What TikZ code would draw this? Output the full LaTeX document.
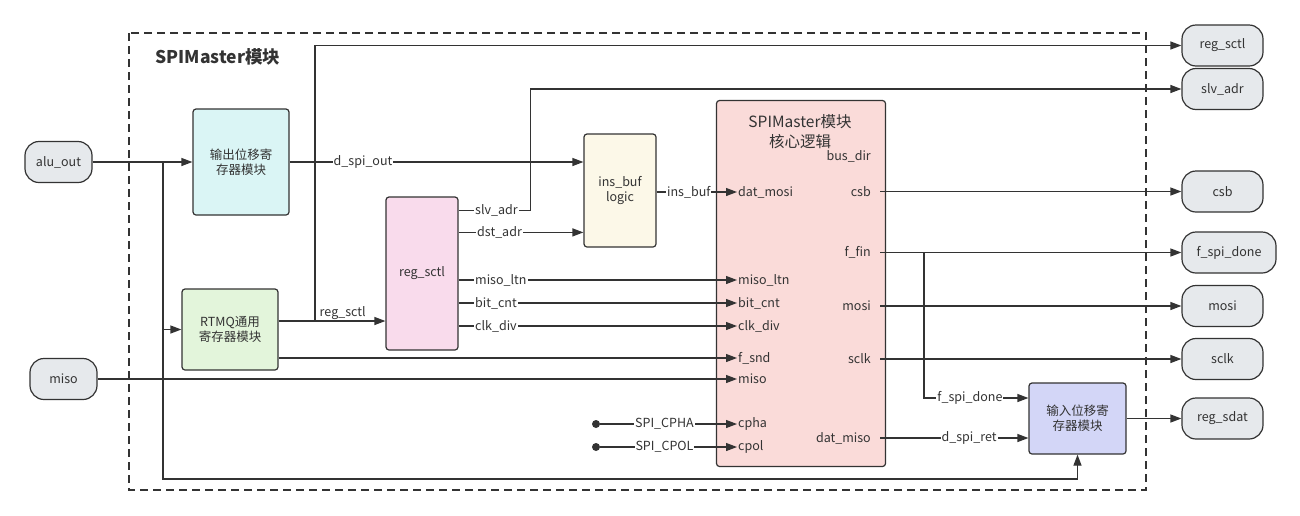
\documentclass[tikz,border=0pt]{standalone}
\usepackage{fontspec}
\setmainfont{Noto Sans CJK SC}
\usetikzlibrary{arrows.meta, positioning, calc}
\definecolor{ink}{HTML}{333333}
\definecolor{osrcyan}{HTML}{DAF5F5}
\definecolor{rtmqgreen}{HTML}{E3F5DB}
\definecolor{regpink}{HTML}{F9DBEC}
\definecolor{bufcream}{HTML}{FCF8E8}
\definecolor{corepink}{HTML}{FADBD9}
\definecolor{isrblue}{HTML}{D3D6F7}
\definecolor{pillgray}{HTML}{E6E9EC}
\newcommand{\lblfont}{\fontsize{12.5}{15}\selectfont}

\begin{document}
\begin{tikzpicture}[x=1pt, y=-1pt,
  wire/.style={draw=ink, line width=1.2pt},
  arr/.style={wire, -{Triangle[length=11pt, width=8pt]}},
  block/.style={rectangle, rounded corners=3pt, draw=ink, line width=1.2pt, align=center,
    font=\lblfont, text=ink, inner sep=0pt},
  pill/.style={rectangle, rounded corners=14pt, draw=ink, line width=1.2pt, fill=pillgray,
    minimum height=41pt, font=\lblfont, text=ink},
  port/.style={font=\lblfont, text=ink, inner sep=1pt},
  lbl/.style={font=\lblfont, text=ink, fill=white, inner sep=1pt},
  dot/.style={circle, fill=ink, minimum size=8pt, inner sep=0pt}
]
  \useasboundingbox (0,0) rectangle (1300,515);
  \draw[wire, dash pattern=on 8pt off 5pt] (129,33) rectangle (1146,490);
  \node[font=\bfseries\fontsize{17.5}{20}\selectfont, text=ink, anchor=west] (title) at (152,57) {SPIMaster模块};

  % inputs
  \node[pill, minimum width=67pt] (aluout) at (58.5,162) {alu\_out};
  \node[pill, minimum width=67pt] (misoin) at (63.5,379) {miso};

  % blocks
  \node[block, fill=osrcyan, minimum width=96pt, minimum height=106pt] (osr) at (241,162) {输出位移寄\\存器模块};
  \node[block, fill=rtmqgreen, minimum width=96pt, minimum height=81pt] (rtmq) at (230,329.5) {RTMQ通用\\寄存器模块};
  \node[block, fill=regpink, minimum width=72pt, minimum height=153pt] (regsctl) at (422,273.5) {reg\_sctl};
  \node[block, fill=bufcream, minimum width=72pt, minimum height=113pt] (insbuf) at (620,190.5) {ins\_buf\\logic};
  \node[block, fill=corepink, minimum width=169pt, minimum height=366pt] (core) at (801,283.5) {};
  \node[font=\fontsize{15.5}{20}\selectfont, text=ink, align=center] (coretitle) at (800,132) {SPIMaster模块\\核心逻辑};
  \node[block, fill=isrblue, minimum width=97pt, minimum height=71pt] (isr) at (1077.5,418.5) {输入位移寄\\存器模块};

  % core ports
  \foreach \y/\nm/\txt in {192/datmosi/dat\_mosi, 280/misoltn/miso\_ltn, 303/bitcnt/bit\_cnt,
      326/clkdiv/clk\_div, 358/fsnd/f\_snd, 379/miso/miso, 424/cpha/cpha, 447/cpol/cpol}
    \node[port, anchor=west] (in-\nm) at (737,\y) {\txt};
  \foreach \y/\nm/\txt in {156/busdir/bus\_dir, 191.5/csb/csb, 252.5/ffin/f\_fin,
      306/mosi/mosi, 359/sclk/sclk, 438/datmiso/dat\_miso}
    \node[port, anchor=east] (out-\nm) at (872,\y) {\txt};

  % outputs
  \foreach \y/\nm/\txt in {45.5/regsctl/reg\_sctl, 89/slvadr/slv\_adr, 191.5/csb/csb,
      306/mosi/mosi, 359/sclk/sclk, 418.5/regsdat/reg\_sdat}
    \node[pill, minimum width=81pt] (o-\nm) at (1222.5,\y) {\txt};
  \node[pill, minimum width=94pt] (o-fspidone) at (1229,252.5) {f\_spi\_done};

  \node[dot] (cpha) at (596,424) {};
  \node[dot] (cpol) at (596,447) {};

  \coordinate (jalu) at (163,162);
  \coordinate (jbot) at (163,479);
  \coordinate (rq) at ($(rtmq.east)+(0,-8.5)$);
  \coordinate (jrs) at (315,321);
  \coordinate (slv) at ($(regsctl.north east)+(0,14)$);
  \coordinate (dst) at ($(regsctl.north east)+(0,36)$);
  \coordinate (cr) at (880,0);
  \coordinate (jfin) at (924,252.5);
  \coordinate (dret) at ($(isr.west)+(0,19.5)$);

  % left side
  \draw[arr] (aluout.east) -- (aluout.east -| osr.west);
  \draw[arr] (jalu) |- (rtmq.west);
  \draw[arr] (jalu) -- (jbot) -| (isr.south);
  \draw[arr] (rq) -- node[lbl, pos=0.6, fill=none, above] {reg\_sctl} (rq -| regsctl.west);
  \draw[arr] (jrs) |- (o-regsctl.west);
  \draw[arr] ($(rtmq.east)+(0,28.5)$) -- (in-fsnd.west);
  \draw[arr] (misoin.east) -- (in-miso.west);
  \draw[arr] (osr.east) -- node[lbl, pos=0.25] {d\_spi\_out} (osr.east -| insbuf.west);

  % reg_sctl outputs
  \draw[arr] (slv) -- node[lbl, pos=0, anchor=west, xshift=15pt] {slv\_adr} ++(72,0) |- (o-slvadr.west);
  \draw[arr] (dst) -- node[lbl, pos=0, anchor=west, xshift=17pt] {dst\_adr} (dst -| insbuf.west);
  \foreach \nm/\txt in {misoltn/miso\_ltn, bitcnt/bit\_cnt, clkdiv/clk\_div}
    \draw[arr] (regsctl.east |- in-\nm) -- node[lbl, pos=0, anchor=west, xshift=15pt] {\txt} (in-\nm.west);
  \draw[arr] (insbuf.east |- in-datmosi) -- node[lbl, pos=0.4] {ins\_buf} (in-datmosi.west);
  \draw[arr] (cpha) -- node[lbl, pos=0.47] {SPI\_CPHA} (in-cpha.west);
  \draw[arr] (cpol) -- node[lbl, pos=0.47] {SPI\_CPOL} (in-cpol.west);

  % core outputs
  \foreach \nm in {csb, mosi, sclk, fspidone}
    \draw[arr] (cr |- o-\nm) -- (o-\nm.west);
  \draw[arr] (jfin) |- node[lbl, pos=0.72] {f\_spi\_done} ($(isr.west)+(0,-20.5)$);
  \draw[arr] (cr |- dret) -- node[lbl, pos=0.6] {d\_spi\_ret} (dret);
  \draw[arr] (isr.east) -- (isr.east -| o-regsdat.west);
\end{tikzpicture}
\end{document}
